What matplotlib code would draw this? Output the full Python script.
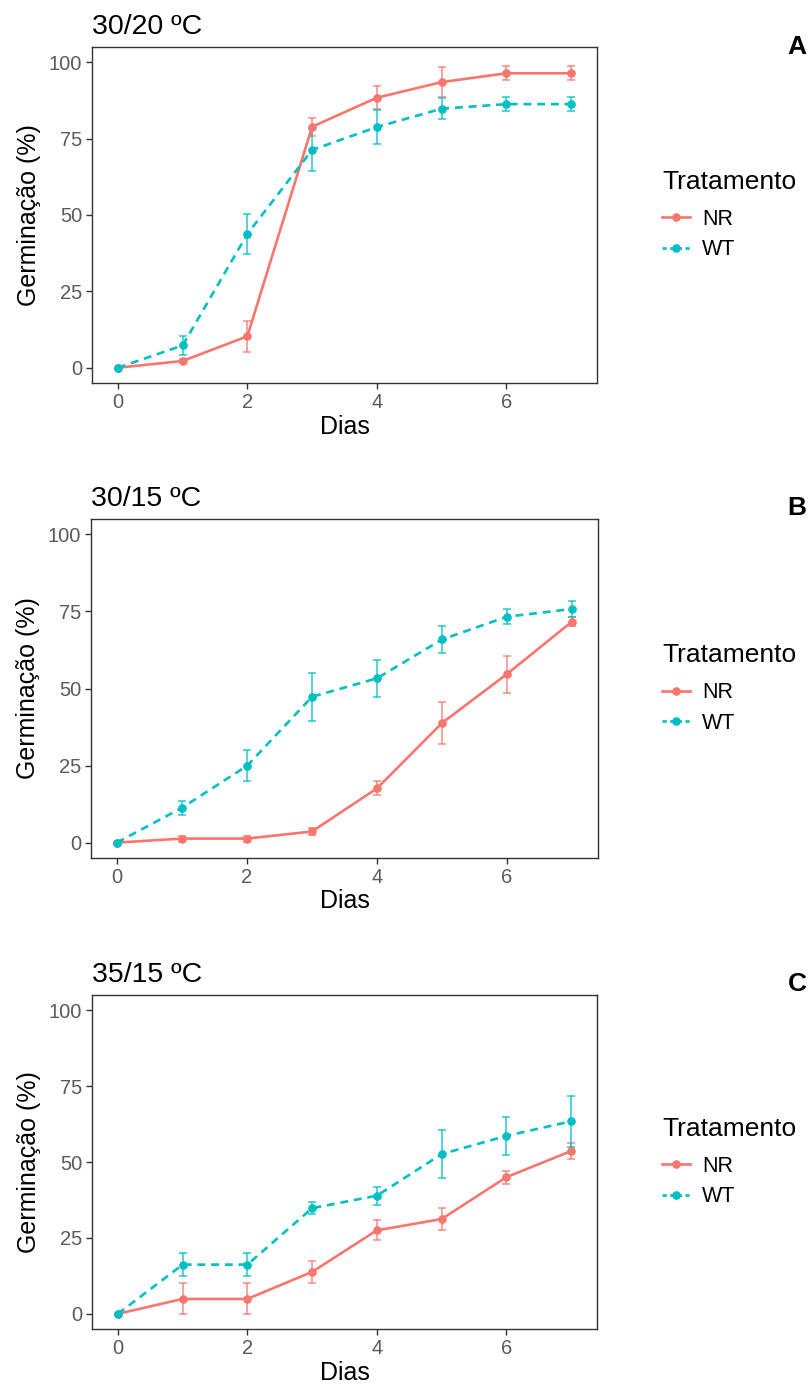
import matplotlib
matplotlib.use('Agg')
import matplotlib.pyplot as plt
from matplotlib.lines import Line2D

plt.rcParams['font.family'] = ['Liberation Sans', 'DejaVu Sans']

# ---------------- data ----------------
dias = [0, 1, 2, 3, 4, 5, 6, 7]
tratamentos = ['NR', 'WT']
titulos = ['30/20 ºC', '30/15 ºC', '35/15 ºC']
letras = ['A', 'B', 'C']
yticks = [0, 25, 50, 75, 100]
xticks = [0, 2, 4, 6]

# Panel A (30/20 ºC)
nr_a = [0, 2.2, 10.3, 78.9, 88.4, 93.5, 96.4, 96.4]
nr_a_err = [0, 0.8, 5.0, 3.0, 3.7, 5.0, 2.3, 2.3]
wt_a = [0, 7.3, 43.8, 71.3, 78.8, 84.8, 86.3, 86.3]
wt_a_err = [0, 3.0, 6.5, 6.8, 5.5, 3.5, 2.4, 2.4]

# Panel B (30/15 ºC)
nr_b = [0, 1.3, 1.3, 3.6, 17.6, 38.8, 54.7, 71.7]
nr_b_err = [0, 1.0, 1.0, 1.0, 2.3, 6.8, 6.0, 1.5]
wt_b = [0, 11.3, 24.9, 47.3, 53.3, 65.9, 73.3, 75.8]
wt_b_err = [0, 2.2, 5.0, 7.8, 6.1, 4.3, 2.4, 2.5]

# Panel C (35/15 ºC)
nr_c = [0, 4.9, 4.9, 13.8, 27.5, 31.2, 45.0, 53.6]
nr_c_err = [0, 5.1, 5.1, 3.6, 3.3, 3.7, 2.2, 2.6]
wt_c = [0, 16.2, 16.2, 34.8, 38.9, 52.6, 58.6, 63.4]
wt_c_err = [0, 3.7, 3.7, 1.9, 3.0, 7.8, 6.2, 8.5]

paineis = [
    (nr_a, nr_a_err, wt_a, wt_a_err),
    (nr_b, nr_b_err, wt_b, wt_b_err),
    (nr_c, nr_c_err, wt_c, wt_c_err),
]

# ---------------- style ----------------
W, H = 812, 1386
col_nr = '#F8766D'
col_wt = '#00BFC4'
frame_col = '#333333'
tick_col = '#5A5A5A'

# panel frames in pixels: left, top, right, bottom
frames = [(92, 47, 597, 383), (91, 519, 598, 858), (92, 995, 597, 1329)]
letter_y = [47, 508, 984]

fig = plt.figure(figsize=(W / 100, H / 100), dpi=100)

for i, ((nr, nr_e, wt, wt_e), (l, t, r, b)) in enumerate(zip(paineis, frames)):
    ax = fig.add_axes([l / W, 1 - b / H, (r - l) / W, (b - t) / H])
    # error bars
    ax.errorbar(dias, nr, yerr=nr_e, fmt='none', ecolor=col_nr, alpha=0.85,
                elinewidth=1.1, capsize=3.2, capthick=1.1, zorder=2)
    ax.errorbar(dias, wt, yerr=wt_e, fmt='none', ecolor=col_wt, alpha=0.85,
                elinewidth=1.1, capsize=3.2, capthick=1.1, zorder=2)
    # lines
    ax.plot(dias, nr, color=col_nr, lw=1.9, marker='o', ms=5.2,
            solid_capstyle='butt', zorder=3)
    ax.plot(dias, wt, color=col_wt, lw=1.9, marker='o', ms=5.2,
            linestyle=(0, (3.0, 2.2)), zorder=3)

    ax.set_xlim(-0.4, 7.4)
    ax.set_ylim(-5, 105)
    ax.set_xticks(xticks)
    ax.set_yticks(yticks)
    for s in ax.spines.values():
        s.set_color(frame_col)
        s.set_linewidth(1.0)
    ax.tick_params(axis='both', direction='out', length=4, width=1,
                   color=frame_col, labelcolor=tick_col, labelsize=14.5, pad=3)
    ax.set_xlabel('Dias', fontsize=18, labelpad=2)
    ax.set_ylabel('Germinação (%)', fontsize=18, labelpad=6)
    ax.set_title(titulos[i], loc='left', fontsize=20.5, pad=9)

    handles = [
        Line2D([], [], color=col_nr, lw=1.9, marker='o', ms=5.2),
        Line2D([], [], color=col_wt, lw=1.9, marker='o', ms=5.2,
               linestyle=(0, (1.6, 1.3))),
    ]
    leg = ax.legend(handles, tratamentos, title='Tratamento',
                    loc='center left',
                    bbox_to_anchor=((662 - l) / (r - l), 0.5),
                    frameon=False, fontsize=15.5, title_fontsize=19,
                    handlelength=1.3, handletextpad=0.55, labelspacing=0.45,
                    borderpad=0, borderaxespad=0, alignment='left')
    leg._legend_box.sep = 11

    fig.text(797 / W, 1 - letter_y[i] / H, letras[i], ha='center', va='center',
             fontsize=19, fontweight='bold')

fig.savefig('out.png', dpi=100)
